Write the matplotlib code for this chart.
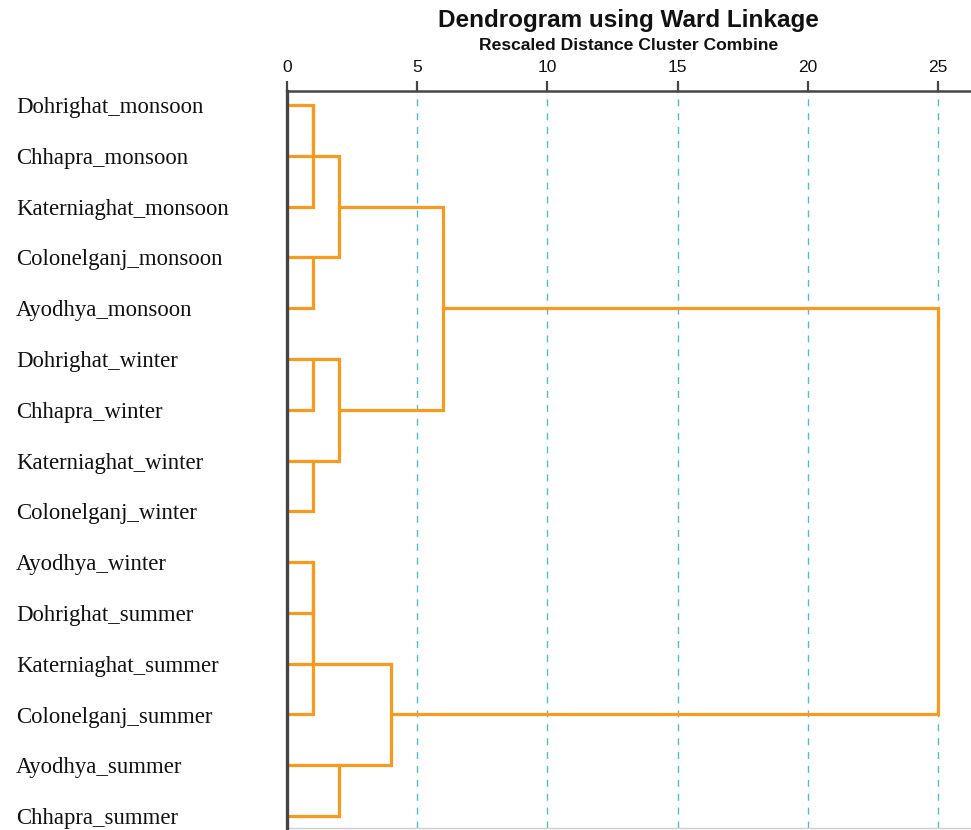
import matplotlib
matplotlib.use("Agg")
import matplotlib.pyplot as plt
from matplotlib.transforms import blended_transform_factory

# leaf order (top to bottom)
leaves = [
    "Dohrighat_monsoon", "Chhapra_monsoon", "Katerniaghat_monsoon",
    "Colonelganj_monsoon", "Ayodhya_monsoon", "Dohrighat_winter",
    "Chhapra_winter", "Katerniaghat_winter", "Colonelganj_winter",
    "Ayodhya_winter", "Dohrighat_summer", "Katerniaghat_summer",
    "Colonelganj_summer", "Ayodhya_summer", "Chhapra_summer",
]

# agglomeration steps: (cluster a, cluster b, rescaled distance)
# new clusters get ids 15, 16, ... in order
merge_a = [0, 15, 3, 16, 5, 7, 19, 18, 9, 23, 24, 13, 25, 22]
merge_b = [1, 2, 4, 17, 6, 8, 20, 21, 10, 11, 12, 14, 26, 27]
merge_dist = [1.0, 1.0, 1.0, 2.0, 1.0, 1.0, 2.0, 6.0, 1.0, 1.0, 1.0, 2.0, 4.0, 25.0]

x_ticks = [0, 5, 10, 15, 20, 25]

ORANGE = "#F99A1E"
TEAL = "#4DBFC6"
AXIS = "#454545"

fig = plt.figure(figsize=(9.71, 8.30), dpi=100)
ax = fig.add_axes([287 / 971, 2 / 830, 1 - 287 / 971, (830 - 91 - 2) / 830])

# node positions: (x, y) for every cluster id
pos = {i: (0.0, float(i)) for i in range(len(leaves))}
for k, (a, b, d) in enumerate(zip(merge_a, merge_b, merge_dist)):
    xa, ya = pos[a]
    xb, yb = pos[b]
    ax.plot([xa, d, d, xb], [ya, ya, yb, yb], color=ORANGE, lw=2.3,
            solid_joinstyle="miter", solid_capstyle="butt", zorder=3)
    pos[len(leaves) + k] = (d, float(int((ya + yb) // 2)))

for t in x_ticks[1:]:
    ax.axvline(t, color=TEAL, lw=1.0, dashes=(5, 5), zorder=1)

ax.set_xlim(0, (971 - 287) / 26.04)
ax.set_ylim((828 - 105) / 50.79, (91 - 105) / 50.79)

ax.xaxis.tick_top()
ax.set_xticks(x_ticks)
ax.set_xticklabels([str(t) for t in x_ticks], fontfamily="Liberation Sans",
                   fontsize=12.5, color="#111111")
ax.tick_params(axis="x", direction="out", length=7.5, width=1.6, color=AXIS, pad=4)
ax.set_yticks([])

for side in ["top", "left"]:
    ax.spines[side].set_color(AXIS)
    ax.spines[side].set_linewidth(1.8)
ax.spines["left"].set_linewidth(2.4)
ax.spines["left"].set_zorder(5)
ax.spines["bottom"].set_color("#CFCFCF")
ax.spines["bottom"].set_linewidth(1.0)
ax.spines["right"].set_visible(False)

trans = blended_transform_factory(fig.transFigure, ax.transData)
for i, name in enumerate(leaves):
    ax.text(16 / 971, i + 0.16, name, transform=trans, ha="left", va="baseline",
            fontfamily="Liberation Serif", fontsize=16.4, color="#111111",
            clip_on=False)

fig.text(628 / 971, 1 - 20 / 830, "Dendrogram using Ward Linkage",
         ha="center", va="center", fontfamily="Liberation Sans",
         fontweight="bold", fontsize=17.5, color="#111111")
fig.text(629 / 971, 1 - 45 / 830, "Rescaled Distance Cluster Combine",
         ha="center", va="center", fontfamily="Liberation Sans",
         fontweight="bold", fontsize=12.6, color="#111111")

fig.savefig("out.png", dpi=100, facecolor="white")
plt.close(fig)
